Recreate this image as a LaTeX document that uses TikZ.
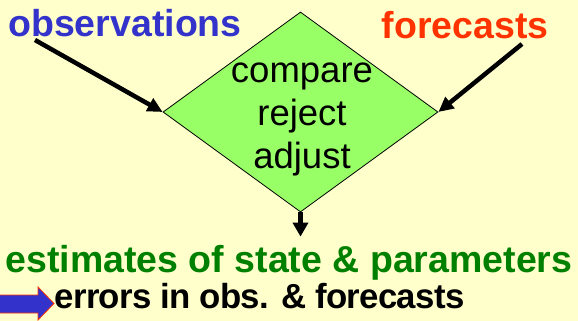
\documentclass[tikz,border=0pt]{standalone}
\usepackage{fontspec}
\setmainfont{Liberation Sans}
\usepackage{xcolor}
\usepackage{tikz}
\usetikzlibrary{shapes.geometric, arrows.meta, positioning, calc}
\definecolor{paper}{RGB}{255, 255, 204}
\definecolor{leaf}{RGB}{153, 255, 102}
\definecolor{obsblue}{RGB}{51, 51, 204}
\definecolor{fcred}{RGB}{255, 51, 0}
\definecolor{estgreen}{RGB}{0, 128, 0}
\tikzset{
    bigtext/.style={font=\fontsize{36.5}{43}\selectfont, inner sep=0pt, anchor=base},
    source/.style={bigtext, font=\fontsize{37.5}{43}\selectfont\bfseries},
    checkbox/.style={diamond, draw=black, fill=leaf, line width=0.8pt, inner sep=0pt, minimum width=275pt, minimum height=200pt},
    feed/.style={draw, -{Triangle[length=15pt, width=14pt]}, line width=4.5pt, color=black},
    drop/.style={draw, -{Triangle[length=14pt, width=15pt]}, line width=4.5pt, color=black}
}
\begin{document}
\begin{tikzpicture}[x=1pt, y=-1pt]
        \fill[paper] (0,0) rectangle (578,321);
        \useasboundingbox (0,0) rectangle (578,321);

        \node [source, text=obsblue] (obs) at (125,37) {observations};
        \node [source, text=fcred] (fc) at (465,39) {forecasts};

        \node [checkbox] (check) at (300.5,112) {};
        \node [bigtext, align=center, anchor=center] (steps) at (302,119) {compare\\reject\\adjust};

        \node [source, text=estgreen, inner sep=8pt] (est) at (289,272) {estimates of state \& parameters};
        \node [source, font=\fontsize{34.8}{43}\selectfont\bfseries\addfontfeatures{LetterSpace=-2}] (errs) at (259.5,308) {errors in obs. \& forecasts};

        \coordinate (obs tail) at (35,40);
        \coordinate (fc tail) at (522,44);

        % Draws
        \draw [feed] (obs tail) -- (check.west);
        \draw [feed] (fc tail) -- (check.east);
        \draw [drop] (check.south) -- (check.south |- est.north);

        % marker in front of the last line
        \filldraw [fill=obsblue, draw=fcred, line width=0.8pt]
            (-2,295) -- (38,295) -- (38,287) -- (54,303.5) -- (38,320) -- (38,313) -- (-2,313) -- cycle;

    \end{tikzpicture}
\end{document}
